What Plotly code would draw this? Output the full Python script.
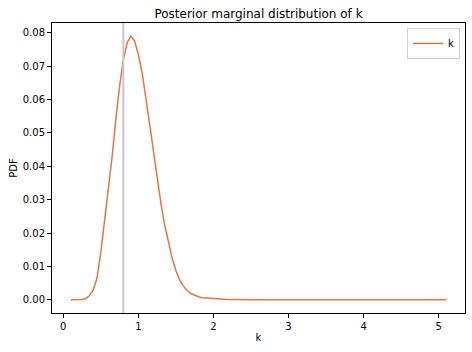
import plotly.graph_objects as go

k_vals = [0.10, 0.15, 0.20, 0.25, 0.30, 0.35, 0.40, 0.45, 0.50, 0.55,
          0.60, 0.65, 0.70, 0.75, 0.80, 0.85, 0.90, 0.95, 1.00, 1.05,
          1.10, 1.15, 1.20, 1.25, 1.30, 1.35, 1.40, 1.45, 1.50, 1.55,
          1.60, 1.65, 1.70, 1.75, 1.80, 1.85, 1.90, 1.95, 2.00, 2.10,
          2.20, 2.30, 2.50, 3.00, 3.50, 4.00, 4.50, 5.10]
pdf_vals = [0.0000, 0.0000, 0.0000, 0.0001, 0.0004, 0.0013, 0.0030, 0.0066, 0.0142, 0.0235,
            0.0334, 0.0428, 0.0540, 0.0640, 0.0720, 0.0770, 0.0790, 0.0776, 0.0735, 0.0680,
            0.0605, 0.0522, 0.0440, 0.0358, 0.0290, 0.0225, 0.0170, 0.0125, 0.0088, 0.0060,
            0.0041, 0.0028, 0.0019, 0.0013, 0.0009, 0.0006, 0.0005, 0.0004, 0.0003, 0.0002,
            0.0001, 0.0001, 0.0000, 0.0000, 0.0000, 0.0000, 0.0000, 0.0000]
vline_k = 0.8
x_ticks = [0, 1, 2, 3, 4, 5]
y_ticks = [0.00, 0.01, 0.02, 0.03, 0.04, 0.05, 0.06, 0.07, 0.08]

fig = go.Figure()
fig.add_trace(go.Scatter(x=k_vals, y=pdf_vals, mode="lines", name="k",
                         line=dict(color="#dc7850", width=1.5)))
fig.add_vline(x=vline_k, line=dict(color="#c8c8c8", width=2))

axis_common = dict(showline=True, linecolor="#000000", linewidth=1, mirror=True,
                   ticks="outside", ticklen=4, tickcolor="#000000", showgrid=False,
                   zeroline=False, tickfont=dict(size=10, color="#000000"))

fig.update_layout(
    width=472, height=352,
    margin=dict(l=52, r=7, t=23, b=39),
    paper_bgcolor="white", plot_bgcolor="white",
    font=dict(family="DejaVu Sans", color="#000000"),
    title=dict(text="Posterior marginal distribution of k", font=dict(size=12),
               x=0.5, xref="paper", xanchor="center",
               y=1 - 14 / 352, yref="container", yanchor="middle"),
    xaxis=dict(range=[-0.15, 5.35], tickvals=x_ticks, ticktext=[str(t) for t in x_ticks],
               title=dict(text="k", font=dict(size=10), standoff=2), **axis_common),
    yaxis=dict(range=[-0.00395, 0.08295], tickvals=y_ticks,
               ticktext=[f"{t:.2f}" for t in y_ticks],
               title=dict(text="PDF", font=dict(size=10), standoff=3), **axis_common),
    legend=dict(x=0.988, y=0.983, xanchor="right", yanchor="top",
                bordercolor="#d0d0d0", borderwidth=1, bgcolor="white",
                font=dict(size=10), itemwidth=30),
    showlegend=True,
)

fig.write_html("out.html")
